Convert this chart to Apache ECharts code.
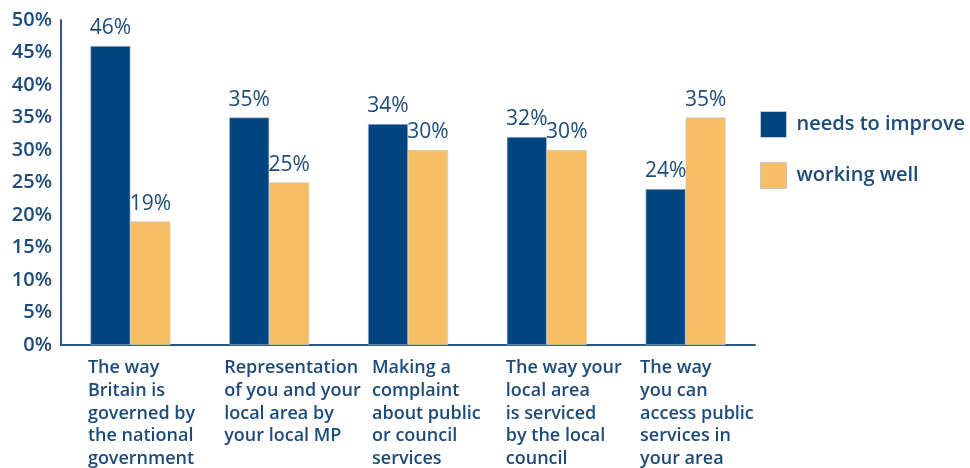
<!DOCTYPE html>
<html>
<head>
<meta charset="utf-8">
<script src="https://cdn.jsdelivr.net/npm/echarts@6/dist/echarts.min.js"></script>
<style>
  html, body { margin: 0; padding: 0; background: #ffffff; }
  #chart { width: 970px; height: 468px; }
</style>
</head>
<body>
<div id="chart"></div>
<script>
// Survey answers: share of respondents per aspect of how things are run
const categories = [
  'The way\nBritain is\ngoverned by\nthe national\ngovernment',
  'Representation\nof you and your\nlocal area by\nyour local MP',
  'Making a\ncomplaint\nabout public\nor council\nservices',
  'The way your\nlocal area\nis serviced\nby the local\ncouncil',
  'The way\nyou can\naccess public\nservices in\nyour area'
];
const needsToImprove = [46, 35, 34, 32, 24];
const workingWell = [19, 25, 30, 30, 35];
const seriesNames = ['needs to improve', 'working well'];
const yTicks = { min: 0, max: 50, interval: 5 };

const NAVY = '#00457f';
const GOLD = '#f7bf64';
const TEXT = '#1d4b79';
const FONT = '"Open Sans", "Noto Sans", sans-serif';

// Each category caption is left-aligned inside a box centred on its group;
// the box widths set how far left of the group centre each caption starts.
const captionBoxWidths = [85, 90, 72, 82, 91];

const chart = echarts.init(document.getElementById('chart'), null, { renderer: 'canvas' });

const barLabel = {
  show: true,
  position: 'top',
  distance: 7,
  formatter: '{c}%',
  color: TEXT,
  fontFamily: FONT,
  fontSize: 21,
  fontWeight: 500
};

const captionRich = {};
captionBoxWidths.forEach((w, i) => {
  captionRich['c' + i] = {
    width: w,
    align: 'left',
    color: TEXT,
    fontFamily: FONT,
    fontSize: 18,
    fontWeight: 600,
    lineHeight: 22.6
  };
});

chart.setOption({
  animation: false,
  backgroundColor: '#ffffff',
  grid: {
    left: 61, right: 215, top: 20, bottom: 123,
    containLabel: false,
    outerBoundsMode: 'none'
  },
  legend: {
    orient: 'vertical',
    left: 755,
    top: 106,
    itemWidth: 26,
    itemHeight: 26,
    itemGap: 24,
    icon: 'rect',
    selectedMode: false,
    textStyle: {
      color: TEXT,
      fontFamily: FONT,
      fontSize: 20,
      fontWeight: 600,
      padding: [0, 0, 0, 5]
    },
    itemStyle: { borderColor: '#c8c8c8', borderWidth: 1 },
    data: seriesNames
  },
  xAxis: {
    type: 'category',
    data: categories,
    axisLine: { show: true, lineStyle: { color: '#2a5783', width: 2 } },
    axisTick: { show: false },
    axisLabel: {
      interval: 0,
      margin: 12,
      color: TEXT,
      fontFamily: FONT,
      fontSize: 18,
      fontWeight: 600,
      lineHeight: 22.6,
      verticalAlign: 'top',
      formatter: (v, idx) => v.split('\n').map(l => '{c' + idx + '|' + l + '}').join('\n'),
      rich: captionRich
    }
  },
  yAxis: {
    type: 'value',
    min: yTicks.min,
    max: yTicks.max,
    interval: yTicks.interval,
    axisLine: { show: true, lineStyle: { color: '#2a5783', width: 2 } },
    axisTick: { show: false },
    splitLine: { show: false },
    axisLabel: {
      margin: 9,
      formatter: '{value}%',
      color: TEXT,
      fontFamily: FONT,
      fontSize: 20,
      fontWeight: 600
    }
  },
  series: [
    {
      name: seriesNames[0],
      type: 'bar',
      data: needsToImprove,
      barWidth: 40,
      barGap: '0%',
      itemStyle: { color: NAVY, borderColor: '#bfc6cf', borderWidth: 0.6 },
      label: barLabel
    },
    {
      name: seriesNames[1],
      type: 'bar',
      data: workingWell,
      barWidth: 40,
      barGap: '0%',
      itemStyle: { color: GOLD, borderColor: '#c8c8c8', borderWidth: 0.6 },
      label: barLabel
    }
  ]
});
</script>
</body>
</html>
